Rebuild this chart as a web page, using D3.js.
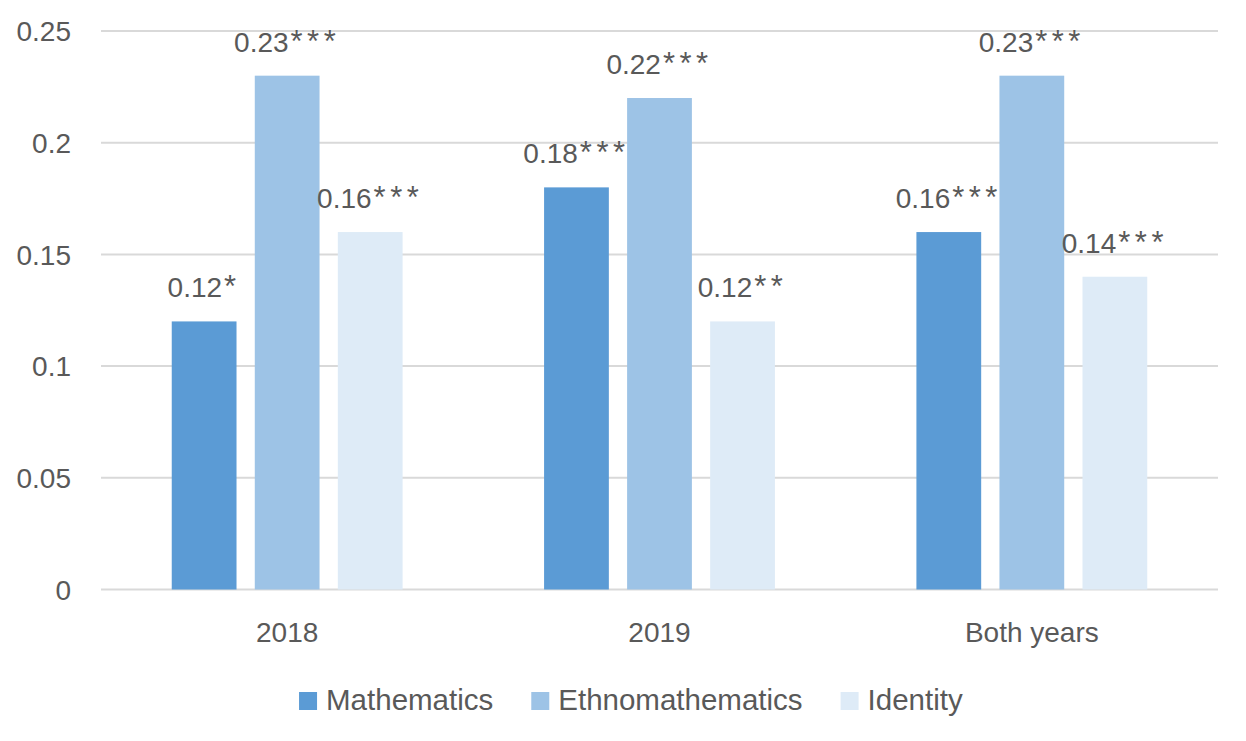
<!DOCTYPE html>
<html>
<head>
<meta charset="utf-8">
<script src="https://cdn.jsdelivr.net/npm/d3@7"></script>
<style>
  html, body { margin: 0; padding: 0; background: #fff; }
  svg { display: block; }
  text { font-family: "Liberation Sans", Arial, sans-serif; fill: #595959; }
</style>
</head>
<body>
<svg id="chart" width="1246" height="741"></svg>
<script>
const categories = ["2018", "2019", "Both years"];
const seriesNames = ["Mathematics", "Ethnomathematics", "Identity"];
const mathematics = [0.12, 0.18, 0.16];
const ethnomathematics = [0.23, 0.22, 0.23];
const identity = [0.16, 0.12, 0.14];
const mathLabels = ["0.12*", "0.18***", "0.16***"];
const ethnoLabels = ["0.23***", "0.22***", "0.23***"];
const identityLabels = ["0.16***", "0.12**", "0.14***"];
const yTicks = [0, 0.05, 0.1, 0.15, 0.2, 0.25];
const yTickLabels = ["0", "0.05", "0.1", "0.15", "0.2", "0.25"];
const colors = ["#5B9BD5", "#9DC3E6", "#DEEBF7"];

const seriesValues = [mathematics, ethnomathematics, identity];
const seriesLabels = [mathLabels, ethnoLabels, identityLabels];

const svg = d3.select("#chart");
const plotLeft = 101, plotRight = 1218, plotTop = 31, plotBottom = 589.5;
const fontSize = 28;

const x0 = d3.scaleBand().domain(categories).range([plotLeft, plotRight]).paddingInner(0.38).paddingOuter(0.19);
const x1 = d3.scaleBand().domain(seriesNames).range([0, x0.bandwidth()]).paddingInner(0.22);
const y = d3.scaleLinear().domain([0, 0.25]).range([plotBottom, plotTop]);

// gridlines
svg.append("g").selectAll("line").data(yTicks).join("line")
  .attr("x1", plotLeft).attr("x2", plotRight)
  .attr("y1", d => y(d)).attr("y2", d => y(d))
  .attr("stroke", "#D9D9D9").attr("stroke-width", 2);

// y tick labels
const yAxis = d3.axisLeft(y).tickValues(yTicks).tickFormat((d, i) => yTickLabels[i]).tickSize(0).tickPadding(0);
const yg = svg.append("g").attr("transform", `translate(71,0)`).call(yAxis);
yg.select(".domain").remove();
yg.selectAll("text").attr("font-size", fontSize).attr("font-family", null).attr("fill", "#595959").attr("dy", "0.35em");

// bars
const groups = svg.append("g").selectAll("g").data(categories).join("g")
  .attr("transform", d => `translate(${x0(d)},0)`);

seriesNames.forEach((s, si) => {
  groups.append("rect")
    .attr("x", x1(s))
    .attr("width", x1.bandwidth())
    .attr("y", (d, i) => y(seriesValues[si][i]))
    .attr("height", (d, i) => y(0) - y(seriesValues[si][i]))
    .attr("fill", colors[si]);
  const t = groups.append("text")
    .attr("x", x1(s) + x1.bandwidth() / 2)
    .attr("y", (d, i) => y(seriesValues[si][i]) - 24)
    .attr("text-anchor", "middle")
    .attr("font-size", fontSize);
  t.append("tspan").text((d, i) => seriesLabels[si][i].replace(/\*+$/, ""));
  t.append("tspan")
    .attr("dx", 2)
    .attr("letter-spacing", 4.5)
    .attr("font-size", 31)
    .text((d, i) => (seriesLabels[si][i].match(/\*+$/) || [""])[0]);
});

// x axis labels
const xAxis = d3.axisBottom(x0).tickSize(0).tickPadding(0);
const xg = svg.append("g").attr("transform", `translate(0,${plotBottom})`).call(xAxis);
xg.select(".domain").remove();
xg.selectAll("text").attr("font-size", fontSize).attr("font-family", null).attr("fill", "#595959")
  .attr("y", 52).attr("dy", 0);

// legend
const legendFont = 29.5;
const legend = svg.append("g");
const items = legend.selectAll("g").data(seriesNames).join("g");
items.append("rect").attr("width", 18).attr("height", 18).attr("y", 692).attr("fill", (d, i) => colors[i]);
items.append("text").attr("x", 27).attr("y", 709.5).attr("font-size", legendFont).text(d => d);
let widths = [];
items.each(function() { widths.push(this.getBBox().width); });
const gap = 38;
const total = d3.sum(widths) + gap * (widths.length - 1);
let cx = 631 - total / 2;
items.attr("transform", (d, i) => { const tr = `translate(${cx},0)`; cx += widths[i] + gap; return tr; });
</script>
</body>
</html>
